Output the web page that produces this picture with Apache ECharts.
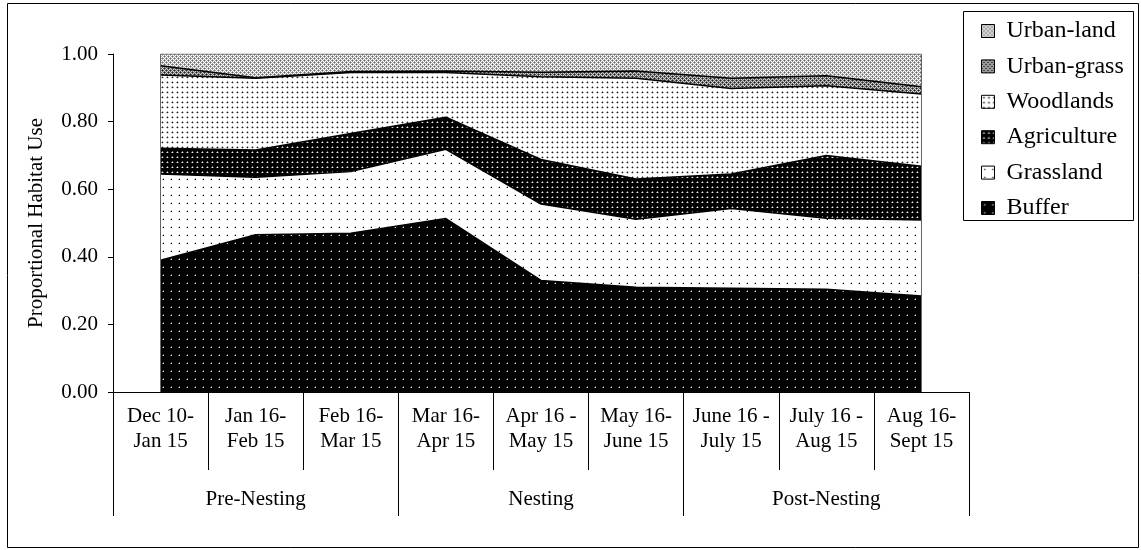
<!DOCTYPE html>
<html>
<head>
<meta charset="utf-8">
<script src="https://cdn.jsdelivr.net/npm/echarts@6/dist/echarts.min.js"></script>
<style>
html,body{margin:0;padding:0;background:#fff;}
#chart{width:1141px;height:550px;}
</style>
</head>
<body>
<div id="chart"></div>
<script>
// ---- data ----
const categories = ['Dec 10-\nJan 15','Jan 16-\nFeb 15','Feb 16-\nMar 15','Mar 16-\nApr 15','Apr 16 -\nMay 15','May 16-\nJune 15','June 16 -\nJuly 15','July 16 -\nAug 15','Aug 16-\nSept 15'];
const groups = ['Pre-Nesting','Nesting','Post-Nesting'];
const buffer      = [0.390, 0.465, 0.470, 0.513, 0.330, 0.310, 0.307, 0.304, 0.284];
const grassland   = [0.255, 0.170, 0.182, 0.205, 0.226, 0.201, 0.236, 0.210, 0.225];
const agriculture = [0.076, 0.081, 0.113, 0.095, 0.132, 0.119, 0.102, 0.186, 0.159];
const woodlands   = [0.217, 0.212, 0.180, 0.132, 0.245, 0.298, 0.253, 0.206, 0.214];
const urbanGrass  = [0.027, 0.002, 0.003, 0.005, 0.013, 0.022, 0.030, 0.030, 0.021];
const urbanLand   = [0.035, 0.070, 0.052, 0.050, 0.054, 0.050, 0.072, 0.064, 0.097];
const yTicks = ['0.00','0.20','0.40','0.60','0.80','1.00'];

// ---- patterns ----
function makePattern(size, bg, dots) {
  const c = document.createElement('canvas');
  c.width = size; c.height = size;
  const g = c.getContext('2d');
  g.fillStyle = bg; g.fillRect(0,0,size,size);
  dots.forEach(d => { g.fillStyle = d[3]; g.fillRect(d[0], d[1], d[2], d[2]); });
  return {image: c, repeat: 'repeat'};
}
const pBuffer = makePattern(8, '#000', [[3,3,1,'#ddd'],[2,3,1,'#555'],[3,2,1,'#555']]);
const pGrass = makePattern(8, '#fff', [[3,3,1,'#000'],[2,3,1,'#bbb'],[3,2,1,'#bbb']]);
const pAgri = makePattern(5, '#000', [[2,2,1,'#eee'],[1,2,1,'#777'],[2,1,1,'#777'],[3,2,1,'#444']]);
const pWood = makePattern(5, '#fff', [[2,2,1,'#222'],[1,2,1,'#999'],[2,1,1,'#999'],[3,2,1,'#bbb'],[2,3,1,'#ccc']]);
function crossHatch(dark, mid, light) {
  const c = document.createElement('canvas');
  c.width = 4; c.height = 4;
  const g = c.getContext('2d');
  g.fillStyle = light; g.fillRect(0,0,4,4);
  g.fillStyle = dark;
  g.fillRect(0,0,1,1); g.fillRect(2,2,1,1);
  g.fillStyle = mid;
  g.fillRect(1,0,1,1); g.fillRect(0,1,1,1); g.fillRect(3,2,1,1); g.fillRect(2,1,1,1);
  g.fillRect(1,2,1,1); g.fillRect(2,3,1,1); g.fillRect(3,0,1,1); g.fillRect(0,3,1,1);
  return {image: c, repeat: 'repeat'};
}
const pUrbanLand = crossHatch('#666', '#a8a8a8', '#fff');
const pUrbanGrass = crossHatch('#222', '#666', '#d0d0d0');

const font = '"Liberation Serif", "Times New Roman", serif';

const seriesDefs = [
  ['Buffer', buffer, pBuffer],
  ['Grassland', grassland, pGrass],
  ['Agriculture', agriculture, pAgri],
  ['Woodlands', woodlands, pWood],
  ['Urban-grass', urbanGrass, pUrbanGrass],
  ['Urban-land', urbanLand, pUrbanLand]
];

const series = seriesDefs.map((d, i) => {
  const s = {
    name: d[0], type: 'line', stack: 'total', data: d[1],
    xAxisIndex: 0, yAxisIndex: 0,
    symbol: 'none', smooth: false,
    color: d[2],
    itemStyle: {color: d[2]},
    lineStyle: {color: i === 5 ? '#666' : '#000', width: i === 5 ? 1 : 1.5},
    areaStyle: {color: d[2], opacity: 1},
    emphasis: {disabled: true},
    animation: false
  };
  if (i === 5) {
    s.markLine = {
      silent: true, symbol: 'none', label: {show: false},
      lineStyle: {color: '#666', width: 1, type: 'solid'},
      data: [{xAxis: 0}, {xAxis: categories.length - 1}]
    };
  }
  return s;
});

const chart = echarts.init(document.getElementById('chart'), null, {renderer: 'canvas'});
chart.setOption({
  animation: false,
  backgroundColor: '#fff',
  grid: {left: 113, right: 172, top: 54, bottom: 158, containLabel: false},
  legend: {
    orient: 'vertical', left: 981, top: 19, padding: 0,
    data: ['Urban-land','Urban-grass','Woodlands','Agriculture','Grassland','Buffer'],
    icon: 'rect', itemWidth: 13, itemHeight: 13, itemGap: 11.4,
    itemStyle: {borderColor: '#000', borderWidth: 1},
    textStyle: {fontFamily: font, fontSize: 24, color: '#000', lineHeight: 24, padding: [0,0,0,7]},
    selectedMode: false
  },
  graphic: [
    {type: 'rect', shape: {x: 7.5, y: 3.5, width: 1131, height: 544}, style: {fill: 'none', stroke: '#000', lineWidth: 1}, silent: true, z: -1},
    {type: 'rect', shape: {x: 963.5, y: 11.5, width: 170, height: 209}, style: {fill: 'none', stroke: '#000', lineWidth: 1}, silent: true}
  ],
  xAxis: [
    {
      type: 'category', data: categories, boundaryGap: true, position: 'bottom',
      axisLine: {show: true, lineStyle: {color: '#000', width: 1}},
      axisTick: {show: true, interval: 0, length: 78, lineStyle: {color: '#000'}},
      axisLabel: {interval: 0, margin: 12, fontFamily: font, fontSize: 21, color: '#000', lineHeight: 25},
      splitLine: {show: false}
    },
    {
      type: 'category', data: groups, boundaryGap: true, position: 'bottom',
      axisLine: {show: false},
      axisTick: {show: true, interval: 0, length: 124, lineStyle: {color: '#000'}},
      axisLabel: {interval: 0, margin: 97, fontFamily: font, fontSize: 21, color: '#000'},
      splitLine: {show: false}
    }
  ],
  yAxis: {
    type: 'value', min: 0, max: 1, interval: 0.2,
    name: 'Proportional Habitat Use', nameLocation: 'middle', nameGap: 66,
    nameTextStyle: {fontFamily: font, fontSize: 21, color: '#000'},
    axisLine: {show: true, lineStyle: {color: '#000'}},
    axisTick: {show: true, length: 5, inside: false, lineStyle: {color: '#000'}},
    axisLabel: {margin: 15, fontFamily: font, fontSize: 21, color: '#000',
      formatter: v => yTicks[Math.round(v / 0.2)] },
    splitLine: {show: false}
  },
  series: series
});
</script>
</body>
</html>
